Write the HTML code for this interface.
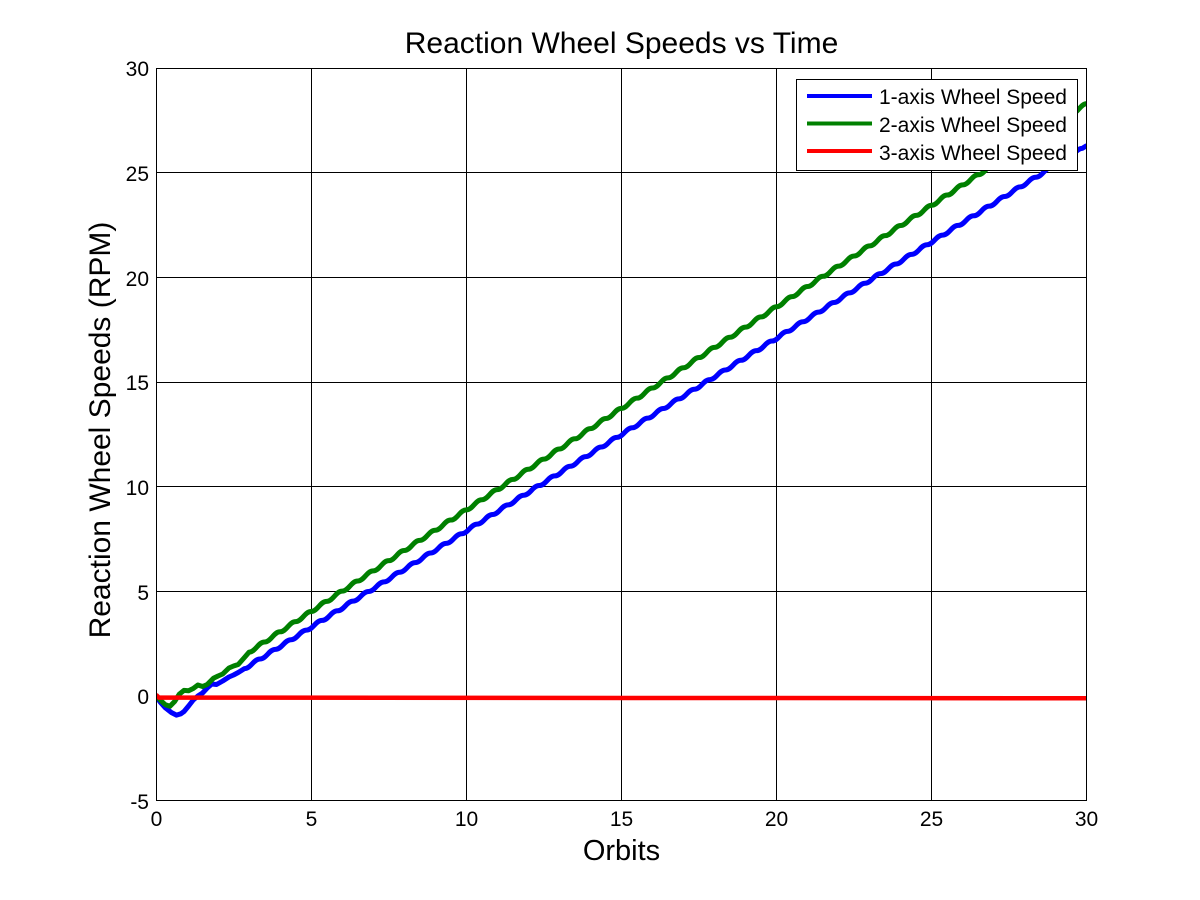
<!DOCTYPE html>
<html>
<head>
<meta charset="utf-8">
<style>
  html, body { margin: 0; padding: 0; background: #fff; }
  svg { display: block; }
  text { font-family: "Liberation Sans", Arial, sans-serif; fill: #000; }
</style>
</head>
<body>
<svg width="1200" height="900" viewBox="0 0 1200 900" xmlns="http://www.w3.org/2000/svg">
  <rect x="0" y="0" width="1200" height="900" fill="#fff"/>
  <defs>
    <clipPath id="plot">
      <rect x="156" y="68" width="931" height="733"/>
    </clipPath>
  </defs>

  <!-- grid -->
  <g stroke="#000" stroke-width="1" fill="none" shape-rendering="crispEdges">
    <line x1="311.5" y1="68" x2="311.5" y2="801"/>
    <line x1="466.5" y1="68" x2="466.5" y2="801"/>
    <line x1="621.5" y1="68" x2="621.5" y2="801"/>
    <line x1="776.5" y1="68" x2="776.5" y2="801"/>
    <line x1="931.5" y1="68" x2="931.5" y2="801"/>
    <line x1="156" y1="172.5" x2="1087" y2="172.5"/>
    <line x1="156" y1="277.5" x2="1087" y2="277.5"/>
    <line x1="156" y1="382.5" x2="1087" y2="382.5"/>
    <line x1="156" y1="486.5" x2="1087" y2="486.5"/>
    <line x1="156" y1="591.5" x2="1087" y2="591.5"/>
    <line x1="156" y1="696.5" x2="1087" y2="696.5"/>
  </g>

  <!-- series -->
  <g clip-path="url(#plot)" fill="none" stroke-width="5" stroke-linejoin="round" stroke-linecap="butt">
    <path stroke="#0000ff" d="M156,696.3 L160.65,702.6 L165.31,707.8 L171.52,712.6 L176.48,715.1 L180.82,713.8 L183.93,711.6 L188.58,706 L193.24,700 L197.89,696 L202.55,693 L207.2,688 L211.85,684 L216.51,684.5 L222.71,681 L228.92,677 L233.58,675 L238.23,672.5 L244.44,668.6
    c 6.5,0 9,-9.634 15.515,-9.634 6.5,0 9,-9.634 15.515,-9.634 6.5,0 9,-9.634 15.515,-9.634 6.5,0 9,-9.634 15.515,-9.634 6.5,0 9,-9.634 15.515,-9.634 6.5,0 9,-9.634 15.515,-9.634
    6.5,0 9,-9.634 15.515,-9.634 6.5,0 9,-9.634 15.515,-9.634 6.5,0 9,-9.634 15.515,-9.634 6.5,0 9,-9.634 15.515,-9.634 6.5,0 9,-9.634 15.515,-9.634 6.5,0 9,-9.634 15.515,-9.634
    6.5,0 9,-9.634 15.515,-9.634 6.5,0 9,-9.634 15.515,-9.634 6.5,0 9,-9.634 15.515,-9.634 6.5,0 9,-9.634 15.515,-9.634 6.5,0 9,-9.634 15.515,-9.634 6.5,0 9,-9.634 15.515,-9.634
    6.5,0 9,-9.634 15.515,-9.634 6.5,0 9,-9.634 15.515,-9.634 6.5,0 9,-9.634 15.515,-9.634 6.5,0 9,-9.634 15.515,-9.634 6.5,0 9,-9.634 15.515,-9.634 6.5,0 9,-9.634 15.515,-9.634
    6.5,0 9,-9.634 15.515,-9.634 6.5,0 9,-9.634 15.515,-9.634 6.5,0 9,-9.634 15.515,-9.634 6.5,0 9,-9.634 15.515,-9.634 6.5,0 9,-9.634 15.515,-9.634 6.5,0 9,-9.634 15.515,-9.634
    6.5,0 9,-9.634 15.515,-9.634 6.5,0 9,-9.634 15.515,-9.634 6.5,0 9,-9.634 15.515,-9.634 6.5,0 9,-9.634 15.515,-9.634 6.5,0 9,-9.634 15.515,-9.634 6.5,0 9,-9.634 15.515,-9.634
    6.5,0 9,-9.634 15.515,-9.634 6.5,0 9,-9.634 15.515,-9.634 6.5,0 9,-9.634 15.515,-9.634 6.5,0 9,-9.634 15.515,-9.634 6.5,0 9,-9.634 15.515,-9.634 6.5,0 9,-9.634 15.515,-9.634
    6.5,0 9,-9.634 15.515,-9.634 6.5,0 9,-9.634 15.515,-9.634 6.5,0 9,-9.634 15.515,-9.634 6.5,0 9,-9.634 15.515,-9.634 6.5,0 9,-9.634 15.515,-9.634 6.5,0 9,-9.634 15.515,-9.634
    6.5,0 9,-9.634 15.515,-9.634 6.5,0 9,-9.634 15.515,-9.634 6.5,0 9,-9.634 15.515,-9.634 6.5,0 9,-9.634 15.515,-9.634 6.5,0 9,-9.634 15.515,-9.634 6.5,0 9,-9.634 15.515,-9.634
    l 4.65,-2.9"/>
    <path stroke="#008000" d="M156,695.2 L160.65,700.5 L165.31,704.7 L169.96,706.3 L174.62,701.5 L179.27,694.2 L183.93,690.4 L188.58,690.8 L193.24,688.5 L197.89,685.0 L202.55,686.5 L207.2,684.5 L213.41,678.3 L218.06,676.0 L222.71,674.0 L228.92,668.0 L233.58,666.0 L238.23,664.5 L244.44,657.5 L249.09,652.1
    c 6.5,0 9,-10.157 15.515,-10.157 6.5,0 9,-10.157 15.515,-10.157 6.5,0 9,-10.157 15.515,-10.157 6.5,0 9,-10.157 15.515,-10.157 6.5,0 9,-10.157 15.515,-10.157 6.5,0 9,-10.157 15.515,-10.157
    6.5,0 9,-10.157 15.515,-10.157 6.5,0 9,-10.157 15.515,-10.157 6.5,0 9,-10.157 15.515,-10.157 6.5,0 9,-10.157 15.515,-10.157 6.5,0 9,-10.157 15.515,-10.157 6.5,0 9,-10.157 15.515,-10.157
    6.5,0 9,-10.157 15.515,-10.157 6.5,0 9,-10.157 15.515,-10.157 6.5,0 9,-10.157 15.515,-10.157 6.5,0 9,-10.157 15.515,-10.157 6.5,0 9,-10.157 15.515,-10.157 6.5,0 9,-10.157 15.515,-10.157
    6.5,0 9,-10.157 15.515,-10.157 6.5,0 9,-10.157 15.515,-10.157 6.5,0 9,-10.157 15.515,-10.157 6.5,0 9,-10.157 15.515,-10.157 6.5,0 9,-10.157 15.515,-10.157 6.5,0 9,-10.157 15.515,-10.157
    6.5,0 9,-10.157 15.515,-10.157 6.5,0 9,-10.157 15.515,-10.157 6.5,0 9,-10.157 15.515,-10.157 6.5,0 9,-10.157 15.515,-10.157 6.5,0 9,-10.157 15.515,-10.157 6.5,0 9,-10.157 15.515,-10.157
    6.5,0 9,-10.157 15.515,-10.157 6.5,0 9,-10.157 15.515,-10.157 6.5,0 9,-10.157 15.515,-10.157 6.5,0 9,-10.157 15.515,-10.157 6.5,0 9,-10.157 15.515,-10.157 6.5,0 9,-10.157 15.515,-10.157
    6.5,0 9,-10.157 15.515,-10.157 6.5,0 9,-10.157 15.515,-10.157 6.5,0 9,-10.157 15.515,-10.157 6.5,0 9,-10.157 15.515,-10.157 6.5,0 9,-10.157 15.515,-10.157 6.5,0 9,-10.157 15.515,-10.157
    6.5,0 9,-10.157 15.515,-10.157 6.5,0 9,-10.157 15.515,-10.157 6.5,0 9,-10.157 15.515,-10.157 6.5,0 9,-10.157 15.515,-10.157 6.5,0 9,-10.157 15.515,-10.157 6.5,0 9,-10.157 15.515,-10.157
    6.5,0 9,-10.157 15.515,-10.157 6.5,0 9,-10.157 15.515,-10.157 6.5,0 9,-10.157 15.515,-10.157 6.5,0 9,-10.157 15.515,-10.157 6.5,0 9,-10.157 15.515,-10.157 6.5,0 9,-10.157 15.515,-10.157"/>
    <path stroke="#ff0000" stroke-width="4.5" d="M156,694.8 L159,697.6 L1087,698.3"/>
  </g>

  <!-- axes box -->
  <rect x="156.5" y="68.5" width="930" height="732" fill="none" stroke="#000" stroke-width="1" shape-rendering="crispEdges"/>

  <!-- y tick labels -->
  <g font-size="21" text-anchor="end">
    <text x="149" y="76">30</text>
    <text x="149" y="181">25</text>
    <text x="149" y="286">20</text>
    <text x="149" y="390">15</text>
    <text x="149" y="495">10</text>
    <text x="149" y="600">5</text>
    <text x="149" y="704">0</text>
    <text x="149" y="809">-5</text>
  </g>

  <!-- x tick labels -->
  <g font-size="21" text-anchor="middle">
    <text x="156.5" y="826">0</text>
    <text x="311.5" y="826">5</text>
    <text x="466.5" y="826">10</text>
    <text x="621.5" y="826">15</text>
    <text x="776.5" y="826">20</text>
    <text x="931.5" y="826">25</text>
    <text x="1086.5" y="826">30</text>
  </g>

  <!-- title & axis labels -->
  <text x="621.5" y="53" font-size="30" text-anchor="middle">Reaction Wheel Speeds vs Time</text>
  <text x="621.5" y="860" font-size="29" text-anchor="middle">Orbits</text>
  <text x="0" y="0" font-size="30" text-anchor="middle" transform="translate(110,430) rotate(-90)">Reaction Wheel Speeds (RPM)</text>

  <!-- legend -->
  <rect x="796.5" y="79.5" width="281" height="91" fill="#fff" stroke="#000" stroke-width="1" shape-rendering="crispEdges"/>
  <g stroke-width="4">
    <line x1="807" y1="96" x2="872" y2="96" stroke="#0000ff"/>
    <line x1="807" y1="123.5" x2="872" y2="123.5" stroke="#008000"/>
    <line x1="807" y1="151" x2="872" y2="151" stroke="#ff0000"/>
  </g>
  <g font-size="21">
    <text x="879" y="104">1-axis Wheel Speed</text>
    <text x="879" y="132">2-axis Wheel Speed</text>
    <text x="879" y="160">3-axis Wheel Speed</text>
  </g>
</svg>
</body>
</html>
